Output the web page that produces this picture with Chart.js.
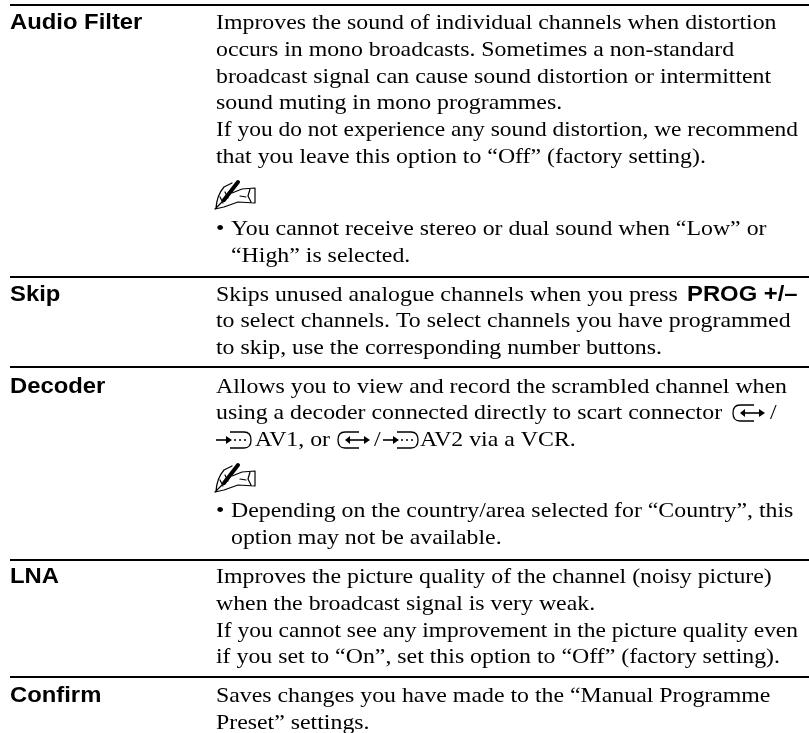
<!DOCTYPE html>
<html><head><meta charset="utf-8">
<style>html,body{margin:0;padding:0;background:#fff}canvas{display:block}</style>
<script src="https://cdn.jsdelivr.net/npm/chart.js@4"></script></head>
<body><canvas id="c" width="809" height="733"></canvas>
<script>
const labels = ["Audio Filter","Skip","Decoder","LNA","Confirm"];
const audioFilter = ["Improves the sound of individual channels when distortion","occurs in mono broadcasts. Sometimes a non-standard","broadcast signal can cause sound distortion or intermittent","sound muting in mono programmes.","If you do not experience any sound distortion, we recommend","that you leave this option to “Off” (factory setting)."];
const audioNote = ["You cannot receive stereo or dual sound when “Low” or","“High” is selected."];
const skip = ["Skips unused analogue channels when you press","to select channels. To select channels you have programmed","to skip, use the corresponding number buttons."];
const skipKey = "PROG +/–";
const decoder = ["Allows you to view and record the scrambled channel when","using a decoder connected directly to scart connector"];
const decoderInline = ["AV1, or","/","AV2 via a VCR."];
const decoderNote = ["Depending on the country/area selected for “Country”, this","option may not be available."];
const lna = ["Improves the picture quality of the channel (noisy picture)","when the broadcast signal is very weak.","If you cannot see any improvement in the picture quality even","if you set to “On”, set this option to “Off” (factory setting)."];
const confirmText = ["Saves changes you have made to the “Manual Programme","Preset” settings."];
const rules = [5,277,367,560,677];

const SERIF='"Liberation Serif"', SANS='"Liberation Sans"';
const plugin={id:'doc',afterDatasetsDraw(ch){
 const {ctx,scales:{x,y}}=ch; ctx.save(); ctx.fillStyle='#000'; ctx.strokeStyle='#000'; ctx.textBaseline='alphabetic';
 const F='22px '+SERIF, B='bold 22px '+SANS, SX=1.083, X=216, N=231, P=26.8;
 const T=(s,px,py,f,mw)=>{ctx.save();ctx.translate(x.getPixelForValue(px),y.getPixelForValue(py));ctx.scale(SX,1);ctx.font=f||F;ctx.fillText(s,0,0,(mw||582)/SX);ctx.restore();};
 const block=(a,y0,xx)=>a.forEach((s,i)=>T(s,xx||X,y0+i*P,F,xx?567:582));
 const bullet=(py)=>{T("•",X,py);};
 const input=(px,b)=>{ctx.lineWidth=1.3;ctx.beginPath();ctx.moveTo(px+22,b-14);ctx.lineTo(px+8,b-14);ctx.quadraticCurveTo(px+1,b-14,px+1,b-6);ctx.quadraticCurveTo(px+1,b+2,px+8,b+2);ctx.lineTo(px+22,b+2);ctx.stroke();
   ctx.lineWidth=1.6;ctx.beginPath();ctx.moveTo(px+11,b-6);ctx.lineTo(px+29,b-6);ctx.stroke();
   ctx.beginPath();ctx.moveTo(px+8,b-6);ctx.lineTo(px+13,b-10);ctx.lineTo(px+13,b-2);ctx.closePath();ctx.fill();
   ctx.beginPath();ctx.moveTo(px+33,b-6);ctx.lineTo(px+27,b-10);ctx.lineTo(px+27,b-2);ctx.closePath();ctx.fill();};
 const output=(px,b)=>{ctx.lineWidth=1.6;ctx.beginPath();ctx.moveTo(px,b-6);ctx.lineTo(px+12,b-6);ctx.stroke();
   ctx.beginPath();ctx.moveTo(px+16,b-6);ctx.lineTo(px+10,b-10);ctx.lineTo(px+10,b-2);ctx.closePath();ctx.fill();
   ctx.lineWidth=1.3;ctx.beginPath();ctx.moveTo(px+14,b-14);ctx.lineTo(px+28,b-14);ctx.quadraticCurveTo(px+35,b-14,px+35,b-6);ctx.quadraticCurveTo(px+35,b+2,px+28,b+2);ctx.lineTo(px+14,b+2);ctx.stroke();
   [19,24,29].forEach(d=>{ctx.beginPath();ctx.arc(px+d,b-6,1,0,7);ctx.fill();});};
 const pencil=(b)=>{ctx.lineCap='round';ctx.lineJoin='round';ctx.lineWidth=4;ctx.beginPath();ctx.moveTo(224,b-9);ctx.lineTo(238,b-27);ctx.stroke();
   ctx.lineWidth=1.2;ctx.beginPath();ctx.moveTo(215,b);ctx.lineTo(224,b-9);
   ctx.moveTo(216,b-1);ctx.quadraticCurveTo(217,b-14,224,b-22);ctx.lineTo(232,b-26);
   ctx.moveTo(232,b-16);ctx.lineTo(242,b-20);ctx.lineTo(255,b-21);ctx.lineTo(255,b-6);ctx.lineTo(238,b-7);ctx.lineTo(224,b-2);ctx.lineTo(215,b);
   ctx.moveTo(250,b-20);ctx.lineTo(248,b-13);ctx.lineTo(251,b-7);
   ctx.moveTo(225,b-17);ctx.lineTo(228,b-11);ctx.moveTo(220,b-12);ctx.lineTo(223,b-6);ctx.moveTo(240,b-13);ctx.lineTo(246,b-12);ctx.stroke();ctx.lineCap='butt';ctx.lineJoin='miter';};
 T(labels[0],10,29,B); block(audioFilter,29); pencil(209); bullet(235); block(audioNote,235,N);
 T(labels[1],10,300.5,B); T(skip[0],X,300.5,F,462); skip.slice(1).forEach((s,i)=>T(s,X,327.3+i*P));
 T(skipKey,687,300.5,'bold 22px '+SANS);
 T(labels[2],10,392.5,B); block(decoder,392.5); input(732,419); T(decoderInline[1],770,419);
 output(216,446); T(decoderInline[0],255,446); input(337,446); T(decoderInline[1],374,446); output(383,446); T(decoderInline[2],420,446);
 pencil(492); bullet(517); block(decoderNote,517,N);
 T(labels[3],10,583,B); block(lna,583);
 T(labels[4],10,702,B); block(confirmText,702);
 ctx.restore();
}};
new Chart(document.getElementById('c'),{type:'scatter',data:{datasets:rules.map(r=>({data:[{x:10,y:r},{x:809,y:r}],showLine:true,borderColor:'#000',borderWidth:2,pointRadius:0}))},
 options:{responsive:false,animation:false,layout:{padding:0},plugins:{legend:{display:false},tooltip:{enabled:false}},
 scales:{x:{type:'linear',min:0,max:809,display:false},y:{type:'linear',min:0,max:733,reverse:true,display:false}}},plugins:[plugin]});
</script></body></html>
